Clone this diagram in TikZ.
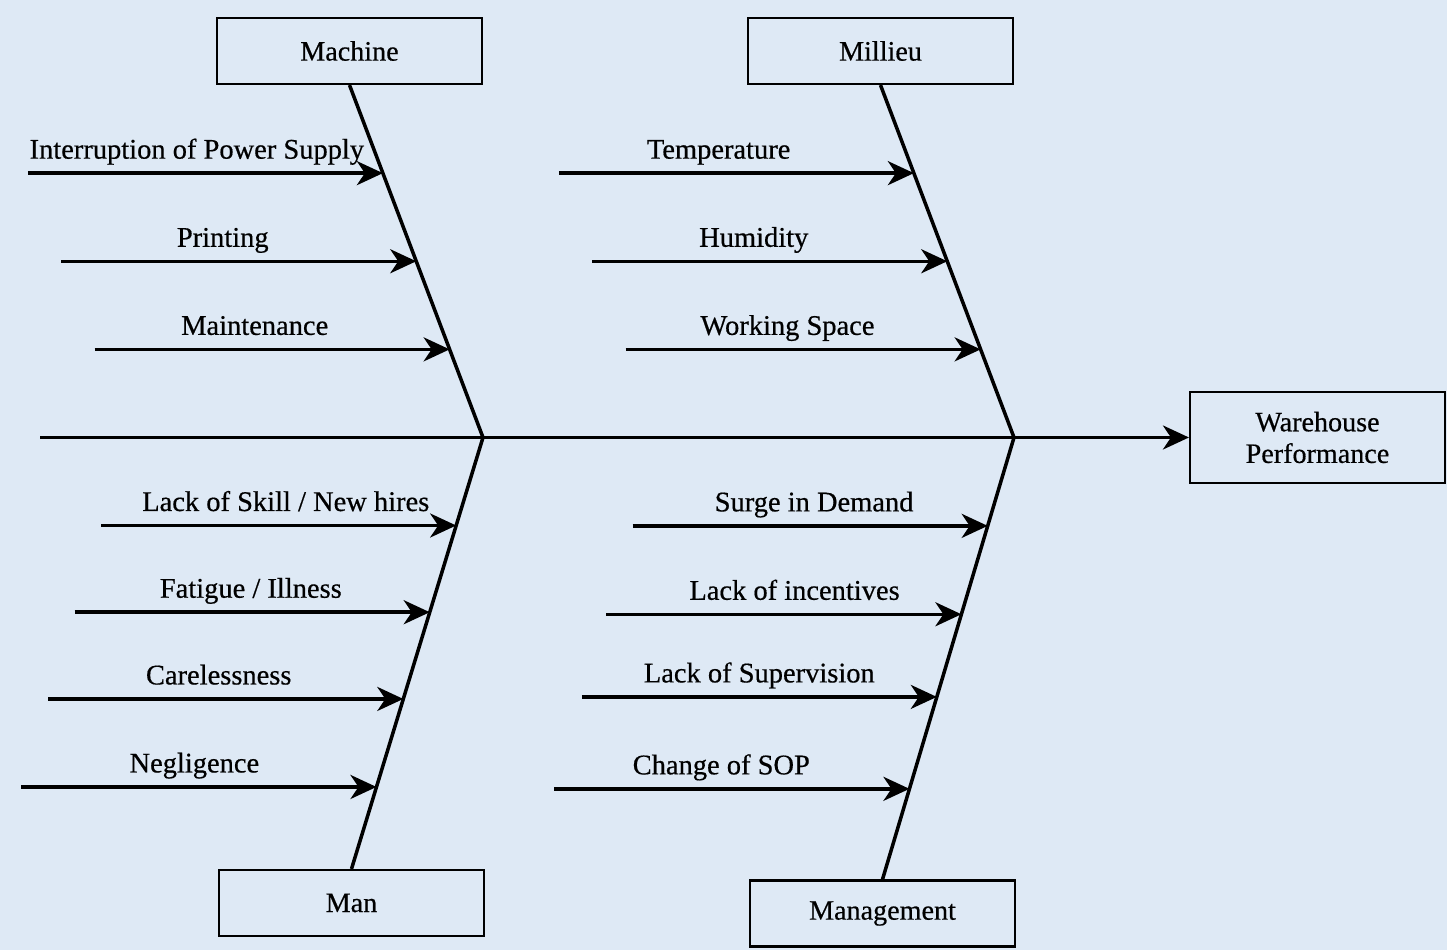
\documentclass[tikz,border=0pt]{standalone}
\usepackage{fontspec}
\setmainfont{Liberation Serif}[FakeBold=0.5]
\usetikzlibrary{arrows.meta,calc,positioning}
\definecolor{paper}{RGB}{222,233,245}

\tikzset{
  catbox/.style={draw, line width=1.2pt, minimum width=5.3cm, minimum height=1.32cm,
    font=\fontsize{16}{18}\selectfont},
  bone/.style={line width=2pt},
  cause/.style={line width=2pt, -{Stealth[length=0.52cm,width=0.48cm,inset=0.16cm]}},
  lbl/.style={anchor=base, yshift=0.29cm, inner sep=0pt, font=\fontsize{16.2}{18}\selectfont}
}

\begin{document}
\begin{tikzpicture}
  \fill[paper] (0,0) rectangle (28.94,19);
  \useasboundingbox (0,0) rectangle (28.94,19);
  % boxes
  \node[catbox] (mach) at (6.99,17.98) {Machine};
  \node[catbox] (mil) at (17.61,17.98) {Millieu};
  \node[catbox] (man) at (7.03,0.94) {Man};
  \node[catbox] (mgmt) at (17.65,0.73) {Management};
  \node[catbox, minimum width=5.1cm, minimum height=1.82cm, align=center] (wp) at (26.35,10.25) {Warehouse\\Performance};
  % spine and bones
  \coordinate (tail) at (0.8,10.25);
  \coordinate (j1) at (9.66,10.25);
  \coordinate (j2) at (20.28,10.25);
  \draw[cause] (tail) -- (wp.west);
  \draw[bone] (mach.south) -- (j1) -- (man.north);
  \draw[bone] (mil.south) -- (j2) -- (mgmt.north);
  % tips on the bones
  \coordinate (a1) at ($(mach.south)!0.25!(j1)$);
  \coordinate (a2) at ($(mach.south)!0.5!(j1)$);
  \coordinate (a3) at ($(mach.south)!0.75!(j1)$);
  \coordinate (b1) at ($(mil.south)!0.25!(j2)$);
  \coordinate (b2) at ($(mil.south)!0.5!(j2)$);
  \coordinate (b3) at ($(mil.south)!0.75!(j2)$);
  \coordinate (c1) at ($(j1)!0.204!(man.north)$);
  \coordinate (c2) at ($(j1)!0.405!(man.north)$);
  \coordinate (c3) at ($(j1)!0.606!(man.north)$);
  \coordinate (c4) at ($(j1)!0.81!(man.north)$);
  \coordinate (d1) at ($(j2)!0.2!(mgmt.north)$);
  \coordinate (d2) at ($(j2)!0.4!(mgmt.north)$);
  \coordinate (d3) at ($(j2)!0.587!(mgmt.north)$);
  \coordinate (d4) at ($(j2)!0.795!(mgmt.north)$);
  % tails of the causes
  \coordinate (a1s) at ($(a1)+(-7.1,0)$);
  \coordinate (a2s) at ($(a2)+(-7.1,0)$);
  \coordinate (a3s) at ($(a3)+(-7.1,0)$);
  \coordinate (b1s) at ($(b1)+(-7.1,0)$);
  \coordinate (b2s) at ($(b2)+(-7.1,0)$);
  \coordinate (b3s) at ($(b3)+(-7.1,0)$);
  \coordinate (c1s) at ($(c1)+(-7.1,0)$);
  \coordinate (c2s) at ($(c2)+(-7.1,0)$);
  \coordinate (c3s) at ($(c3)+(-7.1,0)$);
  \coordinate (c4s) at ($(c4)+(-7.1,0)$);
  \coordinate (d1s) at ($(d1)+(-7.1,0)$);
  \coordinate (d2s) at ($(d2)+(-7.1,0)$);
  \coordinate (d3s) at ($(d3)+(-7.1,0)$);
  \coordinate (d4s) at ($(d4)+(-7.1,0)$);
  % causes
  \draw[cause] (a1s) -- (a1) node[lbl, pos=0.476] {Interruption of Power Supply};
  \draw[cause] (a2s) -- (a2) node[lbl, pos=0.455] {Printing};
  \draw[cause] (a3s) -- (a3) node[lbl, pos=0.451] {Maintenance};
  \draw[cause] (b1s) -- (b1) node[lbl, pos=0.45] {Temperature};
  \draw[cause] (b2s) -- (b2) node[lbl, pos=0.455] {Humidity};
  \draw[cause] (b3s) -- (b3) node[lbl, pos=0.456] {Working Space};
  \draw[cause] (c1s) -- (c1) node[lbl, pos=0.52] {Lack of Skill / New hires};
  \draw[cause] (c2s) -- (c2) node[lbl, pos=0.496] {Fatigue / Illness};
  \draw[cause] (c3s) -- (c3) node[lbl, pos=0.48] {Carelessness};
  \draw[cause] (c4s) -- (c4) node[lbl, pos=0.487] {Negligence};
  \draw[cause] (d1s) -- (d1) node[lbl, pos=0.511] {Surge in Demand};
  \draw[cause] (d2s) -- (d2) node[lbl, pos=0.53] {Lack of incentives};
  \draw[cause] (d3s) -- (d3) node[lbl, pos=0.50] {Lack of Supervision};
  \draw[cause] (d4s) -- (d4) node[lbl, pos=0.47] {Change of SOP};
\end{tikzpicture}
\end{document}
